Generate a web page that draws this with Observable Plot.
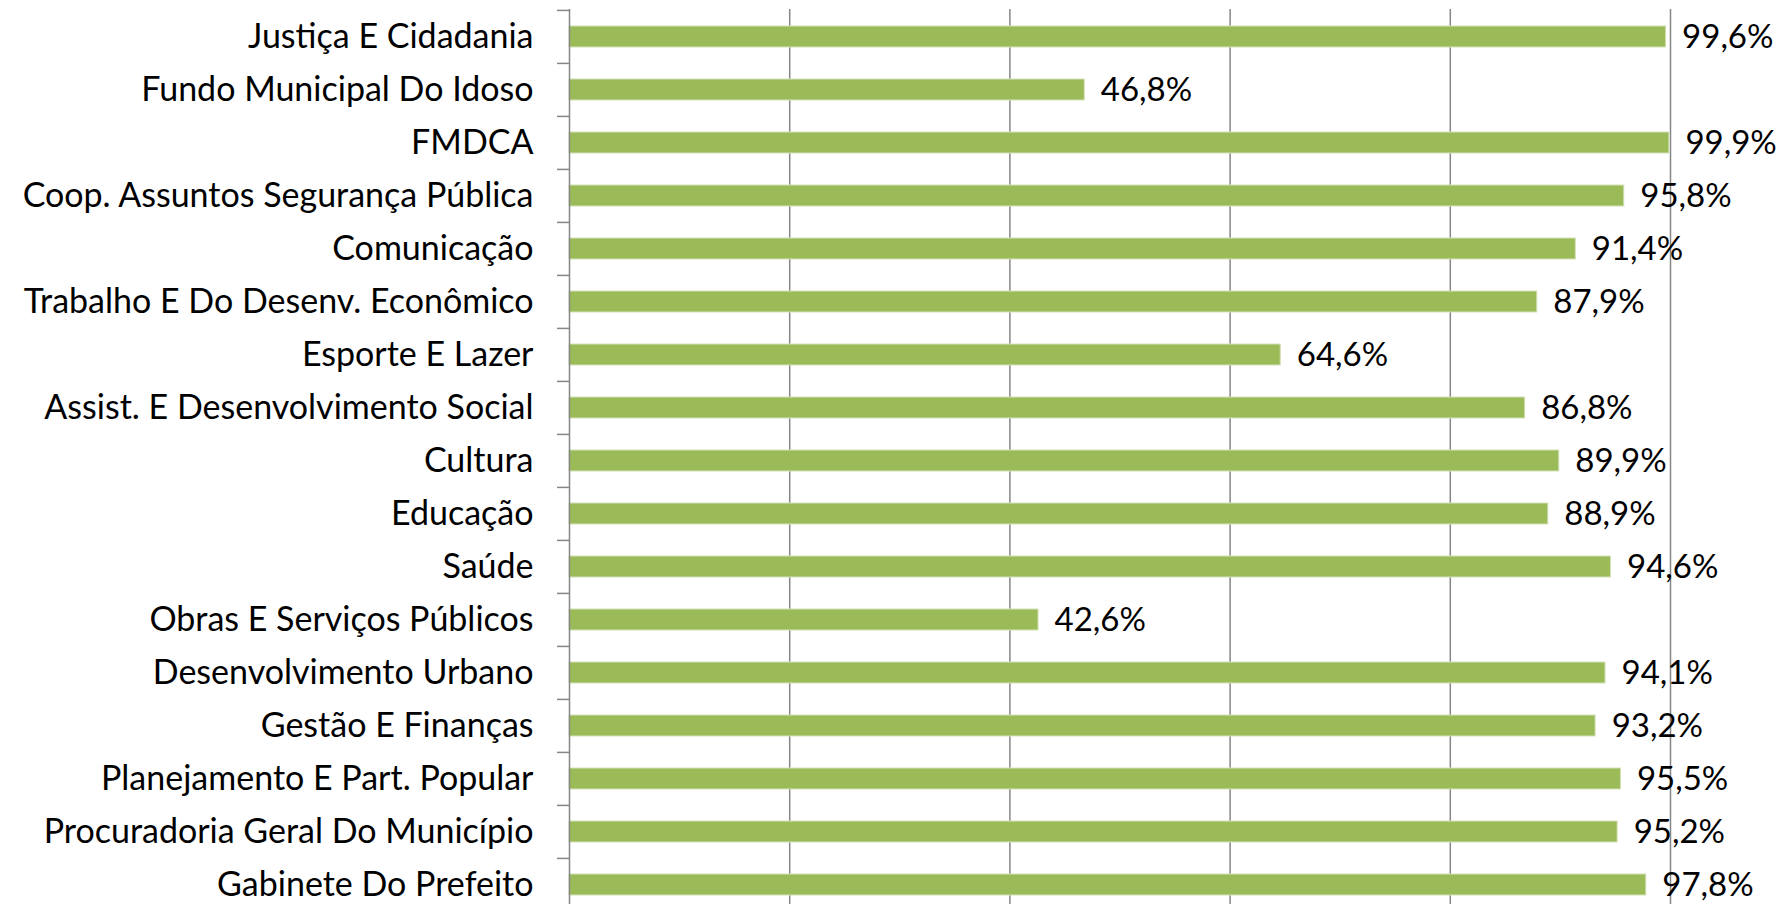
<!DOCTYPE html>
<html>
<head>
<meta charset="utf-8">
<script src="https://cdn.jsdelivr.net/npm/d3@7"></script>
<script src="https://cdn.jsdelivr.net/npm/@observablehq/plot@0.6"></script>
<style>
  html, body { margin: 0; padding: 0; background: #fff; overflow: hidden; }
  #chart svg { display: block; }
</style>
</head>
<body>
<div id="chart"></div>
<script>
const categories = [
  "Justiça E Cidadania",
  "Fundo Municipal Do Idoso",
  "FMDCA",
  "Coop. Assuntos Segurança Pública",
  "Comunicação",
  "Trabalho E Do Desenv. Econômico",
  "Esporte E Lazer",
  "Assist. E Desenvolvimento Social",
  "Cultura",
  "Educação",
  "Saúde",
  "Obras E Serviços Públicos",
  "Desenvolvimento Urbano",
  "Gestão E Finanças",
  "Planejamento E Part. Popular",
  "Procuradoria Geral Do Município",
  "Gabinete Do Prefeito"
];
const values = [99.6, 46.8, 99.9, 95.8, 91.4, 87.9, 64.6, 86.8, 89.9, 88.9, 94.6, 42.6, 94.1, 93.2, 95.5, 95.2, 97.8];
const gridTicks = [20, 40, 60, 80, 100];

const data = categories.map((c, i) => ({
  category: c,
  value: values[i],
  label: values[i].toFixed(1).replace(".", ",") + "%"
}));

const W = 1781, H = 913;
const mTop = 9, mBottom = 0;
const step = (H - mTop - mBottom) / categories.length;
const font = "Lato, 'Open Sans', sans-serif";

const chart = Plot.plot({
  width: W,
  height: H,
  marginLeft: 569,
  marginRight: 111,
  marginTop: mTop,
  marginBottom: mBottom,
  style: { fontFamily: font, fontSize: "34px", color: "#000", background: "#fff" },
  x: { domain: [0, 100], axis: null },
  y: { domain: categories, paddingInner: 0.6, paddingOuter: 0.3, label: null },
  marks: [
    Plot.gridX(gridTicks, { stroke: "#868686", strokeOpacity: 1, strokeWidth: 1.5 }),
    Plot.barX(data, { x: "value", y: "category", fill: "#9BBB59", stroke: "#d3e1b8", strokeWidth: 1 }),
    Plot.ruleX([0], { stroke: "#868686", strokeWidth: 1.5 }),
    Plot.axisY({ tickSize: 12, text: null, dy: -step / 2, stroke: "#868686", strokeWidth: 1.5 }),
    Plot.axisY({ tickSize: 0, tickPadding: 36, fontSize: 34, fill: "#000", label: null }),
    Plot.text(data, { x: "value", y: "category", text: "label", textAnchor: "start", dx: 16, fontSize: 33, fill: "#000" })
  ]
});
document.getElementById("chart").append(chart);
</script>
</body>
</html>
